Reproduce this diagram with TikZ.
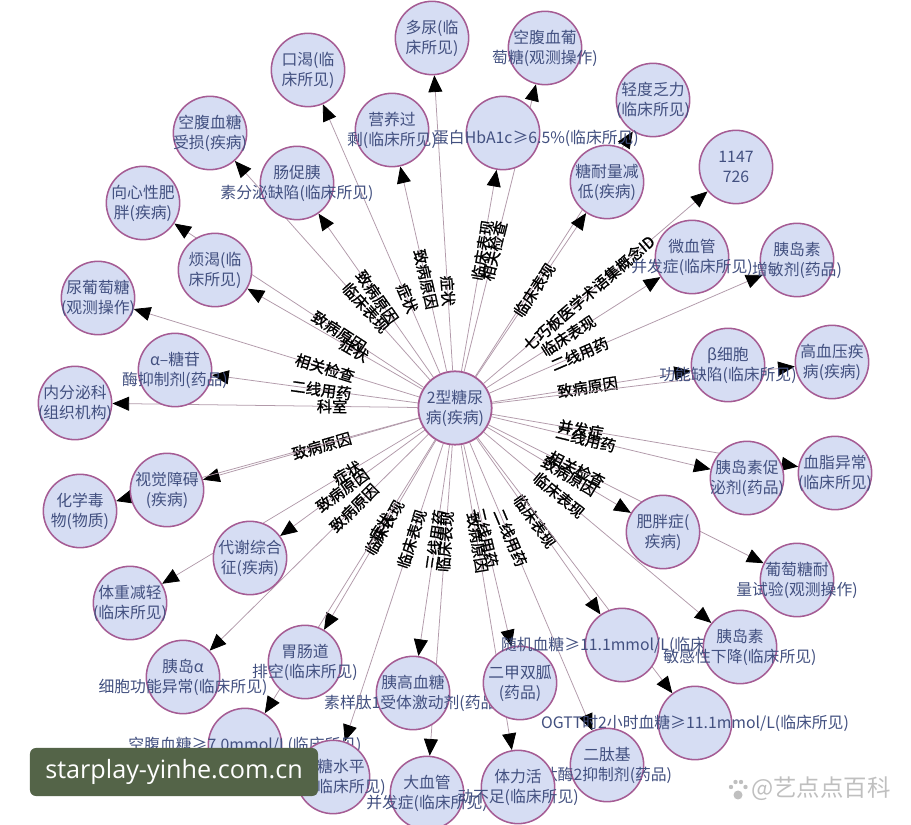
\documentclass[tikz,border=0pt]{standalone}
\usepackage{fontspec}
\setmainfont{Noto Sans CJK SC}
\newfontfamily\relfont{Noto Sans CJK SC}[FakeBold=1.2]
\newfontfamily\wmfont{Open Sans}
\usetikzlibrary{arrows.meta,backgrounds}

\definecolor{entfill}{RGB}{214,221,243}
\definecolor{entline}{RGB}{165,92,148}
\definecolor{enttext}{RGB}{66,80,128}
\definecolor{linkc}{RGB}{178,154,170}
\definecolor{wmgreen}{RGB}{84,100,72}

\begin{document}
\begin{tikzpicture}[x=0.03cm,y=-0.03cm,
  ent/.style={circle, draw=entline, fill=entfill, line width=1.3pt, minimum size=2.2cm, inner sep=0pt},
  etext/.style={text=enttext, align=center, inner sep=0pt, font=\fontsize{13.5}{17}\selectfont},
  link/.style={draw=linkc, line width=0.65pt, -{Triangle[length=0.5cm,width=0.42cm,color=black]}},
  rel/.style={sloped, inner sep=1pt, text=black, font=\relfont\fontsize{13}{13}\selectfont}]
  \useasboundingbox (0,0) rectangle (911,825);

  % disease in the middle
  \node[ent, line width=1.5pt, label={[etext]center:{2型糖尿\\病(疾病)}}] (dm) at (455,408) {};

  % top
  \node[ent, label={[etext]center:{多尿(临\\床所见)}}] (duoniao) at (432,38) {};
  \node[ent, label={[etext]center:{空腹血葡\\萄糖(观测操作)}}] (kfxpt) at (545,48) {};
  \node[ent, label={[etext]center:{口渴(临\\床所见)}}] (kouke) at (308,70) {};
  \node[ent, label={[etext]center:{轻度乏力\\(临床所见)}}] (qdfl) at (653,100) {};
  \node[ent, label={[etext, xshift=0.99cm, yshift=-0.15cm]center:{蛋白HbA1c≥6.5\%(临床所见)}}] (hba) at (503,133) {};
  \node[ent, label={[etext]center:{营养过\\剩(临床所见)}}] (yygs) at (392,130) {};
  \node[ent, label={[etext]center:{空腹血糖\\受损(疾病)}}] (kfss) at (210,133) {};
  \node[ent, label={[etext]center:{肠促胰\\素分泌缺陷(临床所见)}}] (ccys) at (297,183) {};
  \node[ent, label={[etext]center:{糖耐量减\\低(疾病)}}] (tnl) at (607,182) {};
  \node[ent, label={[etext]center:{1147\\726}}] (qqb) at (736,167) {};

  % left
  \node[ent, label={[etext]center:{向心性肥\\胖(疾病)}}] (xxfp) at (143,203) {};
  \node[ent, label={[etext]center:{烦渴(临\\床所见)}}] (fanke) at (215,270) {};
  \node[ent, label={[etext]center:{尿葡萄糖\\(观测操作)}}] (nptt) at (98,298) {};
  \node[ent, label={[etext]center:{α–糖苷\\酶抑制剂(药品)}}] (atg) at (175,370) {};
  \node[ent, label={[etext]center:{内分泌科\\(组织机构)}}] (nfmk) at (75,403) {};
  \node[ent, label={[etext]center:{视觉障碍\\(疾病)}}] (sjza) at (167,490) {};
  \node[ent, label={[etext]center:{化学毒\\物(物质)}}] (hxdw) at (80,511) {};
  \node[ent, label={[etext]center:{代谢综合\\征(疾病)}}] (dxzh) at (250,558) {};
  \node[ent, label={[etext]center:{体重减轻\\(临床所见)}}] (tzjq) at (130,603) {};

  % right
  \node[ent, label={[etext]center:{微血管\\并发症(临床所见)}}] (wxg) at (692,257) {};
  \node[ent, label={[etext]center:{胰岛素\\增敏剂(药品)}}] (zmj) at (797,260) {};
  \node[ent, label={[etext]center:{β细胞\\功能缺陷(临床所见)}}] (bxb) at (728,365) {};
  \node[ent, label={[etext]center:{高血压疾\\病(疾病)}}] (gxy) at (832,362) {};
  \node[ent, label={[etext]center:{胰岛素促\\泌剂(药品)}}] (cmj) at (747,478) {};
  \node[ent, label={[etext]center:{血脂异常\\(临床所见)}}] (xzyc) at (835,473) {};
  \node[ent, label={[etext]center:{肥胖症(\\疾病)}}] (fpz) at (663,532) {};
  \node[ent, label={[etext]center:{葡萄糖耐\\量试验(观测操作)}}] (ptnl) at (797,580) {};

  % bottom
  \node[ent, label={[etext]center:{胃肠道\\排空(临床所见)}}] (wcd) at (305,662) {};
  \node[ent, label={[etext]center:{胰岛α\\细胞功能异常(临床所见)}}] (ydxb) at (183,677) {};
  \node[ent, label={[etext]center:{胰高血糖\\素样肽1受体激动剂(药品)}}] (glp) at (413,693) {};
  \node[ent, label={[etext]center:{二甲双胍\\(药品)}}] (ejsg) at (520,683) {};
  \node[ent, label={[etext]center:{随机血糖≥11.1mmol/L(临床所见)}}] (sjxt) at (622,645) {};
  \node[ent, label={[etext]center:{胰岛素\\敏感性下降(临床所见)}}] (mgx) at (740,647) {};
  \node[ent, label={[etext]center:{空腹血糖≥7.0mmol/L(临床所见)}}] (kfxt) at (245,745) {};
  \node[ent, label={[etext]center:{OGTT时2小时血糖≥11.1mmol/L(临床所见)}}] (ogtt) at (695,723) {};
  \node[ent, label={[etext]center:{二肽基\\肽酶2抑制剂(药品)}}] (etj) at (607,765) {};
  \node[ent, label={[etext]center:{血糖水平\\升高(临床所见)}}] (xtsp) at (333,777) {};
  \node[ent, label={[etext]center:{大血管\\并发症(临床所见)}}] (dxg) at (427,793) {};
  \node[ent, label={[etext]center:{体力活\\动不足(临床所见)}}] (tlhd) at (518,787) {};

  \begin{pgfonlayer}{background}
    \fill[white] (0,0) rectangle (911,825);
    % up
    \draw[link] (dm) -- node[rel, pos=.27] {症状} (duoniao);
    \draw[link] (dm) -- node[rel, pos=.42] {相关检查} (kfxpt);
    \draw[link] (dm) -- node[rel, pos=.28] {症状} (kouke);
    \draw[link] (dm) -- node[rel, pos=.45] {致病原因} (yygs);
    \draw[link] (dm) -- node[rel, pos=.60] {临床表现} (hba);
    \draw[link] (dm) -- (qdfl);
    \draw[link] (dm) -- node[rel, pos=.53] {临床表现} (tnl);
    \draw[link] (dm) -- node[rel, pos=.33] {临床表现} (kfss);
    \draw[link] (dm) -- node[rel, pos=.49] {致病原因} (ccys);
    \draw[link] (dm) -- node[rel, pos=.47] {七巧板医学术语集概念ID} (qqb);
    % left
    \draw[link] (dm) -- node[rel, pos=.34] {致病原因} (xxfp);
    \draw[link] (dm) -- node[rel, pos=.39] {症状} (fanke);
    \draw[link] (dm) -- node[rel, pos=.33] {相关检查} (nptt);
    \draw[link] (dm) -- node[rel, pos=.47] {二线用药} (atg);
    \draw[link] (dm) -- node[rel, pos=.28] {科室} (nfmk);
    \draw[link] (dm) -- node[rel, pos=.45] {致病原因} (sjza);
    \draw[link] (dm) -- (hxdw);
    \draw[link] (dm) -- node[rel, pos=.57] {致病原因} (dxzh);
    \draw[link] (dm) -- node[rel, pos=.29] {症状} (tzjq);
    \draw[link] (dm) -- node[rel, pos=.34] {致病原因} (ydxb);
    % right
    \draw[link] (dm) -- node[rel, pos=.47] {临床表现} (wxg);
    \draw[link] (dm) -- node[rel, pos=.33] {二线用药} (zmj);
    \draw[link] (dm) -- node[rel, pos=.48] {致病原因} (bxb);
    \draw[link] (dm) -- (gxy);
    \draw[link] (dm) -- node[rel, pos=.43] {二线用药} (cmj);
    \draw[link] (dm) -- node[rel, pos=.29] {并发症} (xzyc);
    \draw[link] (dm) -- node[rel, pos=.57] {致病原因} (fpz);
    \draw[link] (dm) -- node[rel, pos=.32] {相关检查} (ptnl);
    \draw[link] (dm) -- node[rel, pos=.33] {临床表现} (mgx);
    % down
    \draw[link] (dm) -- node[rel, pos=.46] {临床表现} (wcd);
    \draw[link] (dm) -- node[rel, pos=.32] {症状} (kfxt);
    \draw[link] (dm) -- node[rel, pos=.45] {三线用药} (glp);
    \draw[link] (dm) -- node[rel, pos=.46] {二线用药} (ejsg);
    \draw[link] (dm) -- node[rel, pos=.47] {临床表现} (sjxt);
    \draw[link] (dm) -- (ogtt);
    \draw[link] (dm) -- node[rel, pos=.33] {二线用药} (etj);
    \draw[link] (dm) -- node[rel, pos=.32] {临床表现} (xtsp);
    \draw[link] (dm) -- node[rel, pos=.31] {临床表现} (dxg);
    \draw[link] (dm) -- node[rel, pos=.32] {致病原因} (tlhd);
  \end{pgfonlayer}

  % watermarks
  \node[fill=wmgreen, rounded corners=5pt, minimum width=8.64cm, minimum height=1.44cm,
        text=white, font=\wmfont\fontsize{21.5}{22}\selectfont] (wmsite) at (174,772) {starplay-yinhe.com.cn};
  \node[text=black!25, font=\fontsize{20}{20}\selectfont] (wmname) at (821,789) {@艺点点百科};
  \fill[black!25] (738,795) circle (4.5) (731,787) circle (2.2) (735.5,782) circle (2.2)
                  (741,782) circle (2.2) (745.5,787) circle (2.2);
\end{tikzpicture}
\end{document}
